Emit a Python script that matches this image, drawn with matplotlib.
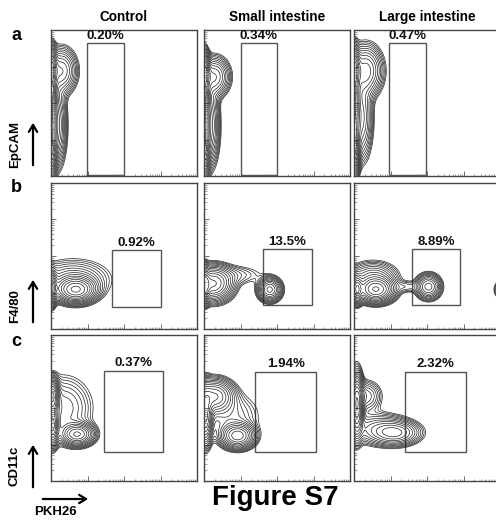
import numpy as np
import matplotlib
matplotlib.use("Agg")
import matplotlib.pyplot as plt
from matplotlib.patches import Rectangle, FancyArrowPatch

plt.rcParams['font.family'] = ['Liberation Sans', 'DejaVu Sans']

# ---------------- data ----------------
COLUMNS = ["Control", "Small intestine", "Large intestine"]
ROW_LETTERS = ["a", "b", "c"]
ROW_MARKERS = ["EpCAM", "F4/80", "CD11c"]
X_MARKER = "PKH26"
TITLE = "Figure S7"

# gate percentages per row (Control, Small, Large)
PCT_A = ["0.20%", "0.34%", "0.47%"]
PCT_B = ["0.92%", "13.5%", "8.89%"]
PCT_C = ["0.37%", "1.94%", "2.32%"]

# gates in axis-fraction units: (x0, x1, y0, y1) per column
GATES_A = [(0.247, 0.50, 0.007, 0.91), (0.253, 0.50, 0.007, 0.91), (0.24, 0.49, 0.007, 0.91)]
GATES_B = [(0.418, 0.753, 0.154, 0.538), (0.405, 0.738, 0.165, 0.545), (0.397, 0.726, 0.165, 0.545)]
GATES_C = [(0.363, 0.767, 0.20, 0.755), (0.352, 0.766, 0.20, 0.748), (0.35, 0.767, 0.20, 0.75)]

# population blobs (u, v, su, sv, weight)
BLOBS_A_CONTROL = [(0.0, 0.20, 0.02, 0.10, 0.8), (0.0, 0.50, 0.02, 0.15, 1.0),
                   (0.0, 0.74, 0.02, 0.07, 0.9), (0.07, 0.72, 0.055, 0.08, 0.35),
                   (0.04, 0.35, 0.035, 0.15, 0.3)]
BLOBS_A_SMALL = [(0.0, 0.20, 0.02, 0.10, 0.8), (0.0, 0.50, 0.02, 0.15, 1.0),
                 (0.0, 0.72, 0.02, 0.06, 0.9), (0.07, 0.68, 0.055, 0.07, 0.35),
                 (0.04, 0.35, 0.035, 0.15, 0.3)]
BLOBS_A_LARGE = [(0.0, 0.20, 0.02, 0.10, 0.8), (0.0, 0.50, 0.02, 0.15, 1.0),
                 (0.0, 0.74, 0.02, 0.07, 0.9), (0.08, 0.72, 0.06, 0.09, 0.4),
                 (0.05, 0.40, 0.04, 0.15, 0.3)]

BLOBS_B_CONTROL = [(0.0, 0.28, 0.02, 0.06, 0.8), (0.17, 0.27, 0.07, 0.045, 1.0),
                   (0.15, 0.34, 0.14, 0.075, 0.15)]
BLOBS_B_SMALL = [(0.0, 0.30, 0.02, 0.06, 1.0), (0.06, 0.31, 0.07, 0.06, 0.8),
                 (0.20, 0.37, 0.12, 0.04, 0.07), (0.45, 0.27, 0.042, 0.042, 0.5)]
BLOBS_B_LARGE = [(0.02, 0.27, 0.02, 0.05, 0.7), (0.15, 0.27, 0.065, 0.045, 1.0),
                 (0.13, 0.36, 0.09, 0.055, 0.2), (0.51, 0.29, 0.045, 0.045, 0.4),
                 (0.36, 0.29, 0.05, 0.025, 0.06), (1.0, 0.27, 0.025, 0.035, 0.1)]

BLOBS_C_CONTROL = [(0.01, 0.58, 0.022, 0.06, 1.0), (0.01, 0.38, 0.022, 0.07, 0.8),
                   (0.18, 0.32, 0.06, 0.04, 0.6), (0.08, 0.50, 0.11, 0.12, 0.15)]
BLOBS_C_SMALL = [(0.01, 0.45, 0.025, 0.10, 0.8), (0.07, 0.58, 0.07, 0.06, 0.6),
                 (0.23, 0.31, 0.06, 0.045, 0.7), (0.17, 0.45, 0.12, 0.09, 0.1)]
BLOBS_C_LARGE = [(0.02, 0.52, 0.022, 0.11, 1.0), (0.08, 0.58, 0.06, 0.06, 0.15),
                 (0.28, 0.33, 0.09, 0.045, 0.35), (0.15, 0.36, 0.12, 0.06, 0.15)]

ROWS = [
    (BLOBS_A_CONTROL, BLOBS_A_SMALL, BLOBS_A_LARGE),
    (BLOBS_B_CONTROL, BLOBS_B_SMALL, BLOBS_B_LARGE),
    (BLOBS_C_CONTROL, BLOBS_C_SMALL, BLOBS_C_LARGE),
]
GATES = [GATES_A, GATES_B, GATES_C]
PCTS = [PCT_A, PCT_B, PCT_C]

# ---------------- layout ----------------
W, H = 496, 525
DPI = 100
fig = plt.figure(figsize=(W / DPI, H / DPI), dpi=DPI)

col_left = [51, 204, 354]
row_top = [30, 183, 335]
pw, ph = 146, 146

grid = np.linspace(0, 1, 300)
U, V = np.meshgrid(grid, grid)

major = [0.25 * k for k in range(5)]
minor = []
for k in range(4):
    for m in range(2, 10):
        minor.append(0.25 * (k + np.log10(m)))

LEVELS = np.geomspace(0.025, 1.0, 15)

def density(blobs):
    f = np.zeros_like(U)
    for (u, v, su, sv, w) in blobs:
        f += w * np.exp(-((U - u) ** 2 / (2 * su ** 2) + (V - v) ** 2 / (2 * sv ** 2)))
    return f

for r in range(3):
    for c in range(3):
        x0 = col_left[c]
        y0 = row_top[r]
        ax = fig.add_axes([x0 / W, 1 - (y0 + ph) / H, pw / W, ph / H])
        f = density(ROWS[r][c])
        ax.contour(U, V, f, levels=LEVELS, colors='#222222', linewidths=0.5)
        gx0, gx1, gy0, gy1 = GATES[r][c]
        ax.add_patch(Rectangle((gx0, gy0), gx1 - gx0, gy1 - gy0, fill=False,
                               edgecolor='#555555', linewidth=1.0))
        ax.text((gx0 + gx1) / 2, gy1 + 0.01, PCTS[r][c], ha='center', va='bottom',
                fontsize=9.5, fontweight='bold', color='#111111')
        ax.set_xlim(0, 1)
        ax.set_ylim(0, 1)
        ax.set_xticks(major)
        ax.set_xticks(minor, minor=True)
        ax.set_yticks(major)
        ax.set_yticks(minor, minor=True)
        ax.set_xticklabels([])
        ax.set_yticklabels([])
        ax.tick_params(which='major', direction='in', length=3.5, width=0.6, color='#555555')
        ax.tick_params(which='minor', direction='in', length=1.8, width=0.5, color='#777777')
        for s in ax.spines.values():
            s.set_color('#444444')
            s.set_linewidth(1.0)

# column titles
for c, name in enumerate(COLUMNS):
    fig.text((col_left[c] + pw / 2) / W, 1 - 17 / H, name, ha='center', va='center',
             fontsize=9.8, fontweight='bold')

# row letters
letter_y = [36, 188, 342]
for r in range(3):
    fig.text(16 / W, 1 - letter_y[r] / H, ROW_LETTERS[r], ha='center', va='center',
             fontsize=13, fontweight='bold')

# y markers with arrows
marker_y = [144, 306, 466]
arrow_span = [(168, 120), (325, 277), (490, 442)]
for r in range(3):
    fig.text(15 / W, 1 - marker_y[r] / H, ROW_MARKERS[r], ha='center', va='center',
             rotation=90, fontsize=9.5, fontweight='bold')
    yb, yt = arrow_span[r]
    fig.add_artist(FancyArrowPatch(
        (33 / W, 1 - yb / H), (33 / W, 1 - yt / H), transform=fig.transFigure,
        arrowstyle='->,head_length=5,head_width=3', linewidth=1.6, color='black',
        mutation_scale=1))

# x marker
fig.add_artist(FancyArrowPatch(
    (40 / W, 1 - 499 / H), (91 / W, 1 - 499 / H), transform=fig.transFigure,
    arrowstyle='->,head_length=5,head_width=3', linewidth=1.6, color='black',
    mutation_scale=1))
fig.text(55 / W, 1 - 512 / H, X_MARKER, ha='center', va='center',
         fontsize=9.5, fontweight='bold')

fig.text(275 / W, 1 - 498 / H, TITLE, ha='center', va='center',
         fontsize=20, fontweight='bold')

fig.savefig("out.png", dpi=DPI)
